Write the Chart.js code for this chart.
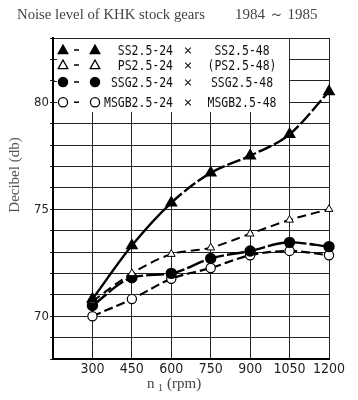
<!DOCTYPE html>
<html><head><meta charset="utf-8">
<script src="https://cdn.jsdelivr.net/npm/chart.js@4/dist/chart.umd.min.js"></script>
<style>html,body{margin:0;padding:0;background:#fff}#wrap{width:358px;height:400px}</style>
</head><body><div id="wrap"><canvas id="c" width="358" height="400"></canvas></div>
<script>
// ---- data ----
const rpm = [300, 450, 600, 750, 900, 1050, 1200];
const ssValues   = [70.8, 73.3, 75.3, 76.7, 77.5, 78.5, 80.5];
const psValues   = [70.7, 72.0, 72.9, 73.2, 73.85, 74.5, 75.0];
const ssgValues  = [70.5, 71.8, 72.0, 72.7, 73.05, 73.45, 73.25];
const msgbValues = [70.0, 70.8, 71.75, 72.25, 72.85, 73.05, 72.85];
const yLabelValues = [70, 75, 80];
const legendLeft  = ['SS2.5-24', 'PS2.5-24', 'SSG2.5-24', 'MSGB2.5-24'];
const legendRight = ['SS2.5-48', '(PS2.5-48)', 'SSG2.5-48', 'MSGB2.5-48'];
const titleText = 'Noise level of KHK stock gears';
const periodText = '1984 ～ 1985';
const yTitle = 'Decibel (db)';
const xTitleMain = 'n';
const xTitleSub = '1';
const xTitleUnit = '(rpm)';

const pts = arr => rpm.map((r, i) => ({x: r, y: arr[i]}));

const markers = [
  {style: 'triangle', fill: '#000'},
  {style: 'triangle', fill: '#fff'},
  {style: 'circle', fill: '#000'},
  {style: 'circle', fill: '#fff'}
];

function drawMarker(ctx, m, x, y) {
  ctx.save();
  ctx.fillStyle = m.fill; ctx.strokeStyle = '#000'; ctx.lineWidth = 1.3;
  ctx.beginPath();
  if (m.style === 'triangle') {
    ctx.moveTo(x, y - 5); ctx.lineTo(x + 4.8, y + 3.6); ctx.lineTo(x - 4.8, y + 3.6); ctx.closePath();
  } else {
    ctx.arc(x, y, 4.6, 0, Math.PI * 2);
  }
  ctx.fill(); ctx.stroke();
  ctx.restore();
}

function fitText(ctx, text, x, y, w, align) {
  const mw = ctx.measureText(text).width;
  const s = Math.min(1, w / mw);
  ctx.save();
  let left = x;
  if (align === 'right') left = x - mw * s;
  else if (align === 'center') left = x - mw * s / 2;
  ctx.translate(left, y); ctx.scale(s, 1);
  ctx.textAlign = 'left';
  ctx.fillText(text, 0, 0);
  ctx.restore();
}

const decor = {
  id: 'decor',
  afterDatasetsDraw(chart) {
    const ctx = chart.ctx;
    const a = chart.chartArea;
    const xs = chart.scales.x;
    const ys = chart.scales.y;
    // legend box (covers grid)
    ctx.save();
    ctx.fillStyle = '#fff';
    ctx.fillRect(a.left + 1.5, a.top + 1, xs.getPixelForValue(1050) - a.left - 2, 73);
    ctx.strokeStyle = '#222'; ctx.lineWidth = 1;
    [82, 81, 80].forEach(v => {
      const py = Math.round(ys.getPixelForValue(v)) + 0.5;
      ctx.beginPath(); ctx.moveTo(a.left, py); ctx.lineTo(a.left + 4, py); ctx.stroke();
    });
    const rowsY = [50, 65, 82, ys.getPixelForValue(80)];
    ctx.fillStyle = '#111';
    ctx.font = '14px "DejaVu Sans Mono", "Liberation Mono", monospace';
    ctx.textBaseline = 'middle';
    rowsY.forEach((ry, i) => {
      drawMarker(ctx, markers[i], 63, ry);
      drawMarker(ctx, markers[i], 95, ry);
      ctx.save(); ctx.lineWidth = 1.5; ctx.strokeStyle = '#000';
      ctx.beginPath(); ctx.moveTo(74, ry); ctx.lineTo(79, ry); ctx.stroke(); ctx.restore();
      const lt = legendLeft[i];
      fitText(ctx, lt, 173, ry + 1, lt.length * 6.9, 'right');
      fitText(ctx, '×', 188, ry + 1, 9, 'center');
      const rt = legendRight[i];
      fitText(ctx, rt, 242, ry + 1, rt.length * 6.9, 'center');
    });
    ctx.restore();

    // titles
    ctx.save();
    ctx.fillStyle = '#444';
    ctx.textBaseline = 'alphabetic';
    ctx.font = '15px "Liberation Serif", serif';
    ctx.textAlign = 'left';
    fitText(ctx, titleText, 17, 19, 188, 'left');
    fitText(ctx, periodText, 235, 19, 88, 'left');
    ctx.font = '15px "Liberation Serif", serif';
    ctx.fillText(xTitleMain, 147, 388);
    ctx.font = '10px "Liberation Serif", serif';
    ctx.fillText(xTitleSub, 158, 391);
    ctx.font = '15px "Liberation Serif", serif';
    fitText(ctx, xTitleUnit, 167, 388, 41, 'left');
    ctx.translate(19, 175);
    ctx.rotate(-Math.PI / 2);
    ctx.fillStyle = '#555';
    ctx.font = '15px "Liberation Serif", serif';
    ctx.textAlign = 'center';
    ctx.fillText(yTitle, 0, 0);
    ctx.restore();
  }
};

const tickFontFamily = '"Liberation Sans Narrow", "DejaVu Sans Condensed", "Liberation Sans", sans-serif';

new Chart(document.getElementById('c'), {
  type: 'line',
  data: {
    datasets: [
      {data: pts(ssValues), borderColor: '#000', borderWidth: 2.4, pointStyle: 'triangle', pointRadius: 5,
       pointBackgroundColor: '#000', pointBorderColor: '#000', tension: 0.4, cubicInterpolationMode: 'monotone',
       segment: {borderDash: c => c.p0DataIndex >= 2 ? [14, 3] : undefined}},
      {data: pts(psValues), borderColor: '#000', borderWidth: 2, borderDash: [9, 5], pointStyle: 'triangle', pointRadius: 4.5,
       pointBackgroundColor: '#fff', pointBorderColor: '#000', pointBorderWidth: 1, tension: 0.4, cubicInterpolationMode: 'monotone'},
      {data: pts(ssgValues), borderColor: '#000', borderWidth: 2.4, borderDash: [18, 3], pointStyle: 'circle', pointRadius: 4.5,
       pointBackgroundColor: '#000', pointBorderColor: '#000', tension: 0.4, cubicInterpolationMode: 'monotone'},
      {data: pts(msgbValues), borderColor: '#000', borderWidth: 2.2, borderDash: [9, 4], pointStyle: 'circle', pointRadius: 4.6,
       pointBackgroundColor: '#fff', pointBorderColor: '#000', pointBorderWidth: 1.2, tension: 0.4, cubicInterpolationMode: 'monotone'}
    ]
  },
  options: {
    responsive: false,
    animation: false,
    clip: false,
    layout: {padding: {top: 38, right: 29, left: 0, bottom: 0}},
    plugins: {legend: {display: false}, tooltip: {enabled: false}, title: {display: false}},
    scales: {
      x: {
        type: 'linear', min: 150, max: 1200,
        afterFit: s => { s.height = 41; },
        ticks: {stepSize: 150, color: '#222', font: {family: tickFontFamily, size: 14}, padding: 2, maxRotation: 0,
                callback: v => rpm.includes(v) ? String(v) : ''},
        grid: {color: '#222', lineWidth: 1, drawTicks: false},
        border: {color: '#000', width: 2}
      },
      y: {
        min: 68, max: 83,
        afterFit: s => { s.width = 53; },
        ticks: {stepSize: 1, color: '#222', font: {family: tickFontFamily, size: 13}, padding: 1,
                callback: v => yLabelValues.includes(v) ? String(v) : ''},
        grid: {color: '#222', lineWidth: 1, tickLength: 3},
        border: {color: '#000', width: 2}
      }
    }
  },
  plugins: [decor]
});
</script>
</body></html>
